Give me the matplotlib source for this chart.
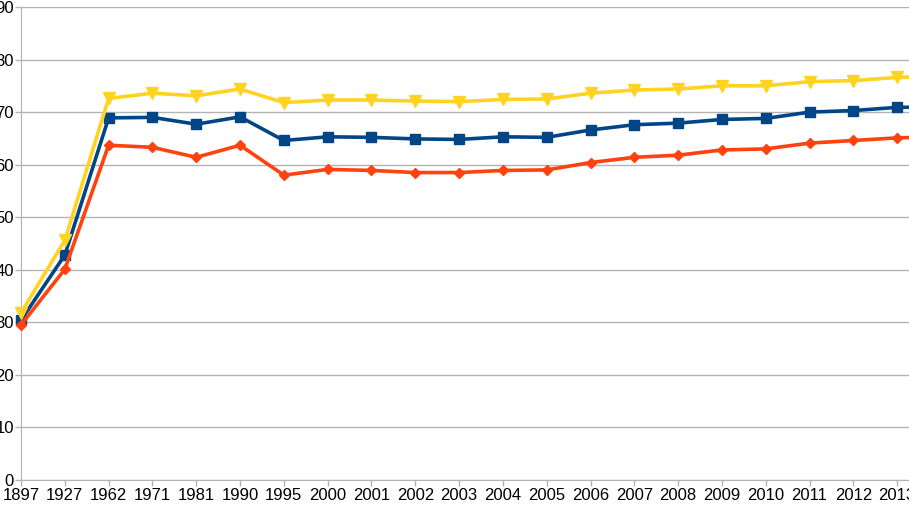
import matplotlib.pyplot as plt

plt.rcParams['font.family'] = ['Liberation Sans Narrow', 'Liberation Sans', 'DejaVu Sans']

# categories (2014 only partly visible at the cropped right edge)
years = ['1897', '1927', '1962', '1971', '1981', '1990', '1995', '2000', '2001', '2002',
         '2003', '2004', '2005', '2006', '2007', '2008', '2009', '2010', '2011', '2012',
         '2013', '2014']

blue = [30.4, 42.8, 68.9, 69.0, 67.7, 69.1, 64.6, 65.3, 65.2, 64.9,
        64.8, 65.3, 65.2, 66.6, 67.6, 67.9, 68.6, 68.8, 70.0, 70.3,
        70.9, 71.0]
orange = [29.5, 40.1, 63.7, 63.3, 61.4, 63.7, 58.0, 59.1, 58.9, 58.5,
          58.5, 58.9, 59.0, 60.4, 61.4, 61.8, 62.8, 63.0, 64.1, 64.6,
          65.1, 65.3]
yellow = [31.8, 45.6, 72.6, 73.6, 73.1, 74.4, 71.8, 72.3, 72.3, 72.1,
          72.0, 72.4, 72.5, 73.6, 74.2, 74.4, 75.0, 75.0, 75.8, 76.0,
          76.6, 76.8]

fig = plt.figure(figsize=(9.09, 5.12), dpi=100)
ax = fig.add_axes([21 / 909, 32 / 512, 888 / 909, 473 / 512])

x = range(len(years))
ax.plot(x, blue, color='#004586', lw=2.6, marker='s', ms=7.5, clip_on=False, zorder=3)
ax.plot(x, orange, color='#ff420e', lw=2.6, marker='D', ms=5.5, clip_on=False, zorder=3)
ax.plot(x, yellow, color='#ffd320', lw=2.6, marker='v', ms=8, clip_on=False, zorder=3)

ax.set_xlim(0, 20.27)
ax.set_ylim(0, 90)
ax.set_yticks(range(0, 91, 10))
ax.set_xticks(list(x)[:21])
ax.set_xticklabels(years[:21])

ax.grid(axis='y', color='#b3b3b3', lw=1)
ax.set_axisbelow(True)
for s in ['top', 'right']:
    ax.spines[s].set_visible(False)
for s in ['left', 'bottom']:
    ax.spines[s].set_color('#b3b3b3')
ax.tick_params(colors='#b3b3b3', length=4, width=1, labelcolor='black', labelsize=12)
ax.tick_params(axis='y', pad=1)
ax.tick_params(axis='x', pad=2)

fig.savefig('out.png', dpi=100)
